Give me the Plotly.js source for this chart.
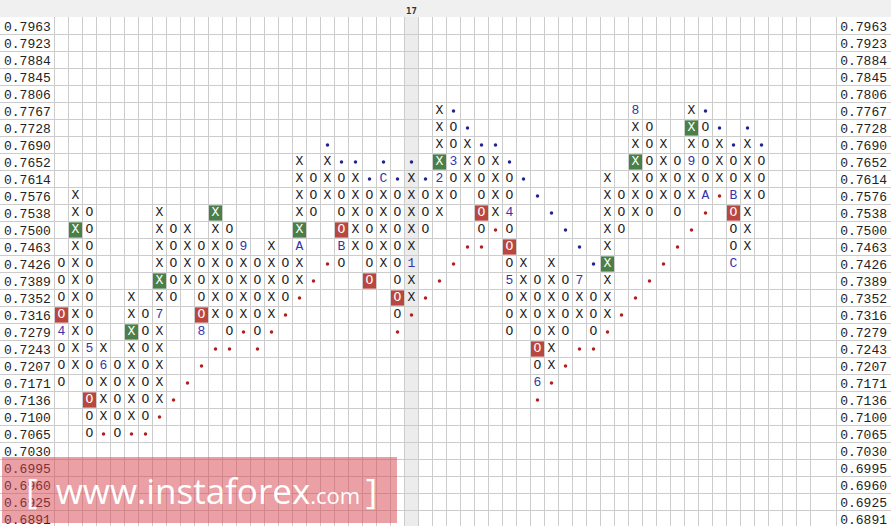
<!DOCTYPE html>
<html><head><meta charset="utf-8">
<script src="https://cdn.plot.ly/plotly-3.0.1.min.js"></script>
<style>html,body{margin:0;padding:0;background:#fff}#chart{width:891px;height:526px}</style>
</head><body><div id="chart"></div>
<script>
// ---- price levels (rows, top to bottom) ----
const priceLevels = ['0.7963','0.7923','0.7884','0.7845','0.7806','0.7767','0.7728','0.7690','0.7652','0.7614',
  '0.7576','0.7538','0.7500','0.7463','0.7426','0.7389','0.7352','0.7316','0.7279','0.7243',
  '0.7207','0.7171','0.7136','0.7100','0.7065','0.7030','0.6995','0.6960','0.6925','0.6891'];

// ---- point & figure columns ----
const columnTypes = ['O','X','O','X','O','X','O','X','O','X','O','X','O','X','O','X','O','X','O','X',
  'O','X','O','X','O','X','O','X','O','X','O','X','O','X','O','X','O','X','O','X',
  'O','X','O','X','O','X','O','X','O','X','O'];
const columnHigh = ['0.7426','0.7576','0.7538','0.7243','0.7207','0.7352','0.7316','0.7538','0.7500','0.7500',
  '0.7463','0.7538','0.7500','0.7463','0.7426','0.7463','0.7426','0.7652','0.7614','0.7652',
  '0.7614','0.7614','0.7576','0.7614','0.7576','0.7614','0.7576','0.7767','0.7728','0.7690',
  '0.7652','0.7652','0.7614','0.7426','0.7389','0.7426','0.7389','0.7389','0.7352','0.7614',
  '0.7576','0.7767','0.7728','0.7690','0.7652','0.7767','0.7728','0.7690','0.7652','0.7690','0.7652'];
const columnLow = ['0.7171','0.7207','0.7065','0.7100','0.7065','0.7100','0.7100','0.7136','0.7352','0.7389',
  '0.7279','0.7316','0.7279','0.7316','0.7279','0.7316','0.7352','0.7389','0.7538','0.7576',
  '0.7426','0.7463','0.7389','0.7426','0.7316','0.7352','0.7500','0.7538','0.7576','0.7614',
  '0.7500','0.7538','0.7279','0.7316','0.7171','0.7207','0.7279','0.7316','0.7279','0.7316',
  '0.7500','0.7538','0.7538','0.7576','0.7538','0.7576','0.7576','0.7614','0.7426','0.7463','0.7576'];

// ---- month markers (first box of each month) ----
const monthCols   = [0,2,3,7,10,13,17,20,23,25,27,28,32,32,34,37,41,45,46,48,48];
const monthPrices = ['0.7279','0.7243','0.7207','0.7316','0.7279','0.7463','0.7463','0.7463','0.7614','0.7426',
  '0.7614','0.7652','0.7538','0.7389','0.7171','0.7389','0.7767','0.7652','0.7576','0.7576','0.7426'];
const monthLabels = ['4','5','6','7','8','9','A','B','C','1','2','3','4','5','6','7','8','9','A','B','C'];

// ---- signals ----
const buyCols   = [1,5,7,11,17,27,39,41,45];
const buyPrices = ['0.7500','0.7279','0.7389','0.7538','0.7500','0.7652','0.7426','0.7652','0.7728'];
const sellCols   = [0,2,10,20,22,24,30,32,34,48];
const sellPrices = ['0.7316','0.7136','0.7316','0.7500','0.7389','0.7352','0.7538','0.7463','0.7243','0.7538'];

// ---- trend lines (dots) ----
const resistCols   = [19,20,21,23,25,22,24,26,28,29,30,31,32,33,34,35,36,37,38,46,47,49,48,50];
const resistPrices = ['0.7690','0.7652','0.7652','0.7652','0.7652','0.7614','0.7614','0.7614','0.7767','0.7728',
  '0.7690','0.7690','0.7652','0.7614','0.7576','0.7538','0.7500','0.7463','0.7426','0.7767','0.7728','0.7728','0.7690','0.7690'];
const supportCols   = [3,5,6,7,8,9,10,11,12,14,13,15,24,16,25,17,26,18,27,19,28,43,29,30,44,31,45,46,47,
  42,41,40,39,37,38,36,35,34];
const supportPrices = ['0.7065','0.7065','0.7065','0.7100','0.7136','0.7171','0.7207','0.7243','0.7243','0.7243',
  '0.7279','0.7279','0.7279','0.7316','0.7316','0.7352','0.7352','0.7389','0.7389','0.7426','0.7426','0.7426',
  '0.7463','0.7463','0.7463','0.7500','0.7500','0.7538','0.7576',
  '0.7389','0.7352','0.7316','0.7279','0.7243','0.7243','0.7207','0.7171','0.7136'];

// ---- year separator ----
const yearCols = [25];
const yearLabels = ['17'];

const gridColumnCount = 55;

// ---------------------------------------------------------------
const row = p => priceLevels.indexOf(p);
const key = (c, r) => c + ':' + r;
const monthSet = new Set(monthCols.map((c, i) => key(c, row(monthPrices[i]))));
const signalSet = new Set([
  ...buyCols.map((c, i) => key(c, row(buyPrices[i]))),
  ...sellCols.map((c, i) => key(c, row(sellPrices[i])))
]);

const boxes = {X: {x: [], y: [], c: []}, O: {x: [], y: [], c: []}};
columnTypes.forEach((t, c) => {
  for (let r = row(columnHigh[c]); r <= row(columnLow[c]); r++) {
    if (monthSet.has(key(c, r))) continue;
    boxes[t].x.push(c); boxes[t].y.push(r);
    boxes[t].c.push(signalSet.has(key(c, r)) ? '#ffffff' : '#1c1c1c');
  }
});

const BOX_H = 0.9, BOX_W = 0.93;
const boxFont = {family: 'Liberation Mono, DejaVu Sans Mono, monospace', size: 13};

function signalBars(cols, prices, color) {
  return {
    type: 'bar', x: cols, y: cols.map(() => BOX_H),
    base: prices.map(p => row(p) - BOX_H / 2), width: BOX_W,
    marker: {color: color, line: {width: 0}}, hoverinfo: 'skip'
  };
}
function textTrace(b, t) {
  return {type: 'scatter', mode: 'text', x: b.x, y: b.y, text: b.x.map(() => t),
    textposition: 'middle center', textfont: Object.assign({color: b.c}, boxFont), hoverinfo: 'skip'};
}
function dots(cols, prices, color) {
  return {type: 'scatter', mode: 'markers', x: cols, y: prices.map(row),
    marker: {size: 3.5, color: color, line: {width: 0}}, hoverinfo: 'skip'};
}

const rows = priceLevels.map((p, i) => i);

const traces = [
  signalBars(buyCols, buyPrices, '#4a7f48'),
  signalBars(sellCols, sellPrices, '#b9473f'),
  dots(resistCols, resistPrices, '#23238f'),
  dots(supportCols, supportPrices, '#b01e1e'),
  textTrace(boxes.X, 'X'),
  textTrace(boxes.O, 'O'),
  {type: 'scatter', mode: 'text', x: monthCols, y: monthPrices.map(row), text: monthLabels,
    textposition: 'middle center', textfont: Object.assign({color: '#3434a8'}, boxFont), hoverinfo: 'skip'},
  {type: 'scatter', mode: 'markers', x: [0], y: [0], yaxis: 'y2', marker: {opacity: 0}, hoverinfo: 'skip'}
];

// geometry: column k centred at 61.5 + 14k px, row r centred at 26 + 17r px
const W = 891, H = 526, TOP = 17, PANEL_EDGE = 836.5;
const pxToX = px => (px - 61.5) / 14;
const xRange = [pxToX(0), pxToX(W)];
const yRange = [(H - 26) / 17, (TOP - 26) / 17];

const gridColor = '#cccccc';
const shapes = [];
yearCols.forEach(c => shapes.push({type: 'rect', xref: 'x', yref: 'paper', x0: c - 0.5, x1: c + 0.5, y0: 0, y1: 1,
  fillcolor: '#ececec', line: {width: 0}, layer: 'below'}));
const vLines = [];
for (let k = 0; k < gridColumnCount; k++) vLines.push(k - 0.5);
vLines.push(pxToX(PANEL_EDGE));
vLines.forEach(x => shapes.push({type: 'line', xref: 'x', yref: 'paper', x0: x, x1: x, y0: 0, y1: 1,
  line: {color: gridColor, width: 1}, layer: 'below'}));
// watermark
shapes.push({type: 'rect', xref: 'paper', yref: 'paper', x0: 2 / W, x1: 397 / W,
  y0: (H - 523) / (H - TOP), y1: (H - 457) / (H - TOP), fillcolor: 'rgba(214,66,76,0.5)', line: {width: 0}, layer: 'above'});

const labelFont = {family: 'Liberation Mono, DejaVu Sans Mono, monospace', size: 13, color: '#222'};
const yCommon = {range: yRange, tickmode: 'array', tickvals: rows, ticktext: priceLevels, showgrid: false,
  zeroline: false, ticks: '', ticklabelposition: 'inside', ticklabeloverflow: 'allow', tickfont: labelFont,
  showline: false, fixedrange: true};

const NB = '\u00A0';
const layout = {
  width: W, height: H,
  margin: {l: 0, r: 0, t: TOP, b: 0, pad: 0},
  paper_bgcolor: '#f0f0f0', plot_bgcolor: '#ffffff',
  showlegend: false, barmode: 'overlay',
  xaxis: {range: xRange, showgrid: false, zeroline: false, side: 'top', tickmode: 'array',
    tickvals: yearCols, ticktext: yearLabels, ticks: '', showline: false, fixedrange: true,
    tickfont: {family: 'DejaVu Sans Mono, monospace', size: 9, color: '#333', weight: 'bold'}},
  yaxis: Object.assign({}, yCommon, {side: 'left', ticklabelstandoff: 1,
    minor: {tickmode: 'linear', tick0: 0.5, dtick: 1, showgrid: true, gridcolor: gridColor, gridwidth: 1, ticks: ''}}),
  yaxis2: Object.assign({}, yCommon, {side: 'right', overlaying: 'y', anchor: 'x', ticklabelstandoff: 1}),
  shapes: shapes,
  annotations: [{xref: 'paper', yref: 'paper', x: 24 / W, y: (H - 490) / (H - TOP), xanchor: 'left', yanchor: 'middle',
    showarrow: false, text: '[' + NB + NB + 'www.instaforex<span style="font-size:22px">.com' + NB + '</span>]',
    font: {family: 'Open Sans, sans-serif', size: 35, color: '#ffffff'}}]
};

Plotly.newPlot('chart', traces, layout, {staticPlot: true, displayModeBar: false});
</script>
</body></html>
